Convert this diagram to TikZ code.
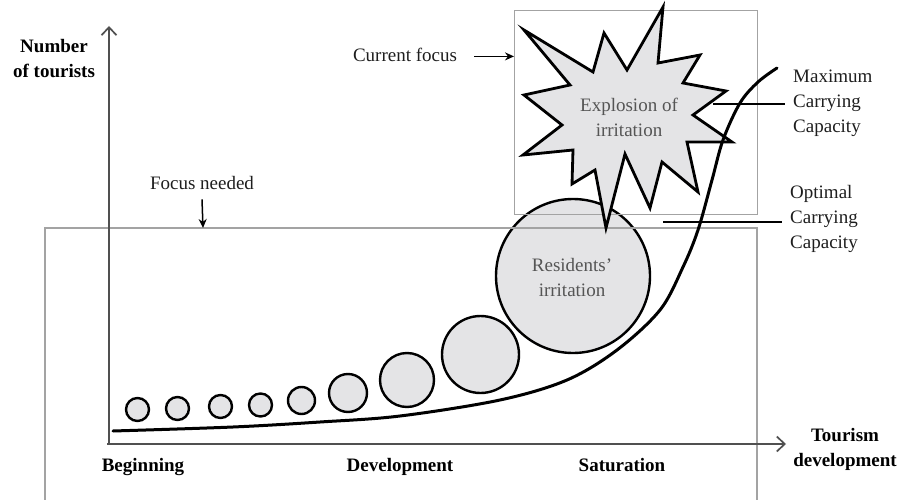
\documentclass[tikz,border=0pt]{standalone}
\usepackage{fontspec}
\setmainfont{Liberation Serif}
\usetikzlibrary{arrows.meta}
\definecolor{txt}{HTML}{1E1E1E}
\definecolor{innertxt}{HTML}{555555}
\definecolor{boxgray}{HTML}{A3A3A3}
\definecolor{axisgray}{HTML}{505050}
\definecolor{bubblefill}{HTML}{E4E4E6}
\begin{document}
\begin{tikzpicture}[x=1pt,y=-1pt,
  every node/.style={font=\fontsize{19}{25}\selectfont, text=txt, inner sep=0pt, align=center},
  boldlbl/.style={font=\fontsize{19}{25}\selectfont\bfseries, text=black},
  innerlbl/.style={text=innertxt},
  boxline/.style={draw=boxgray, line width=1.1pt},
  axisline/.style={draw=axisgray, line width=1.7pt, -{Straight Barb[length=8pt,width=15pt,line width=1.7pt]}},
  bubble/.style={circle, draw=black, line width=2.4pt, fill=bubblefill, minimum size=#1, inner sep=0pt},
  burst/.style={draw=black, line width=2.8pt, fill=bubblefill, line join=miter, miter limit=20},
  curveline/.style={draw=black, line width=3pt, line cap=round},
  pointer/.style={draw=black, line width=1.5pt, -{Stealth[length=9pt,width=8pt]}},
  leader/.style={draw=black, line width=1.3pt}
]
\useasboundingbox (0,0) rectangle (902,500);

% bubbles
\node[bubble=23pt] (c1) at (137.5,409.5) {};
\node[bubble=23pt] (c2) at (177.5,408.5) {};
\node[bubble=23pt] (c3) at (220.5,406.5) {};
\node[bubble=23pt] (c4) at (260.5,405) {};
\node[bubble=27pt] (c5) at (301.5,400.5) {};
\node[bubble=38pt] (c6) at (348,393) {};
\node[bubble=54pt] (c7) at (407,380) {};
\node[bubble=77pt] (c8) at (480.5,354.5) {};
\node[bubble=154pt] (c9) at (573,276) {};

% focus boxes
\node[boxline, minimum width=243pt, minimum height=204pt, anchor=north west] (upbox) at (514,10) {};
\draw[boxline] (45,503) -- (45,228) -- (757,228) -- (757,503);
\coordinate (lowtop) at (203,228);

% explosion
\draw[burst] (524,30) -- (593,72) -- (604,33) -- (627,70) -- (663,7) -- (658,63)
  -- (700,55) -- (683,83) -- (726,91) -- (693,115) -- (732,142) -- (687,142)
  -- (698,192) -- (662,162) -- (650,208) -- (625,154) -- (606,228) -- (595,170)
  -- (572,184) -- (573,150) -- (523,155) -- (562,125) -- (524,95) -- (570,85) -- cycle;
\node[innerlbl] (explbl) at (629,117) {Explosion of\\irritation};
\node[innerlbl] (reslbl) at (572,277) {Residents’\\irritation};

% axes
\coordinate (O) at (109,444);
\coordinate (ytop) at (109,26);
\coordinate (xend) at (786,444);
\draw[axisline] (109,445) -- (ytop);
\draw[axisline] (107,444) -- (xend);

% growth curve
\draw[curveline] plot[smooth, tension=0.55] coordinates {
  (113,431) (233,427) (320,422) (400,416) (500,400) (567,380) (617,350)
  (660,310) (683,267) (698,230) (712,180) (723,140) (740,103) (758,82) (777,68)};

% labels
\node[boldlbl] (ylab) at (54,59) {Number\\of tourists};
\node[anchor=base] (curfocus) at (405,62) {Current focus};
\draw[pointer] ([xshift=17pt,yshift=-1pt]curfocus.east) -- ([yshift=-1pt]curfocus.east -| upbox.west);
\node[anchor=base] (focusneed) at (202,189) {Focus needed};
\draw[pointer] ([yshift=-10pt]focusneed.south) -- (lowtop);

\node[anchor=west, align=left] (maxlbl) at (793,103) {Maximum\\Carrying\\Capacity};
\coordinate (maxpt) at (713,104);
\draw[leader] (maxpt) -- ([xshift=-8pt,yshift=-1pt]maxlbl.west);
\node[anchor=west, align=left] (optlbl) at (790,219) {Optimal\\Carrying\\Capacity};
\coordinate (optpt) at (663,222);
\draw[leader] (optpt) -- ([xshift=-8pt,yshift=-3pt]optlbl.west);

\node[boldlbl, anchor=base] (beg) at (143,471) {Beginning};
\node[boldlbl, anchor=base] (dev) at (400,471) {Development};
\node[boldlbl, anchor=base] (sat) at (622,471) {Saturation};
\node[boldlbl] (tdev) at (845,449) {Tourism\\development};
\end{tikzpicture}
\end{document}
